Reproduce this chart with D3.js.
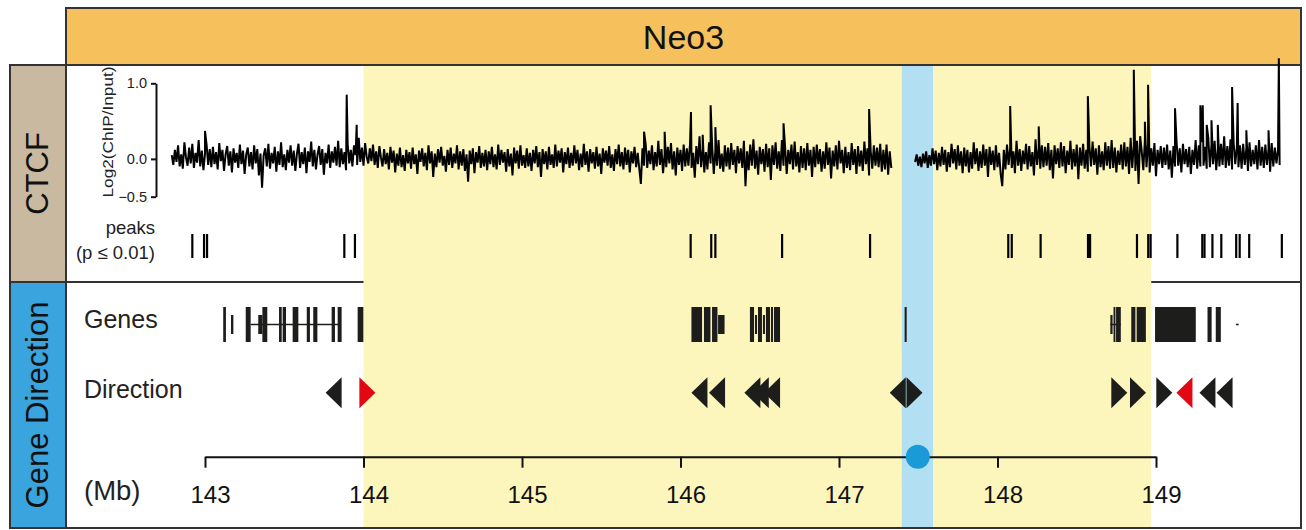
<!DOCTYPE html>
<html><head><meta charset="utf-8">
<script src="https://cdn.jsdelivr.net/npm/d3@7"></script>
<style>
html,body{margin:0;padding:0;background:#fff;}
svg{display:block;font-family:"Liberation Sans",Arial,sans-serif;}
</style></head>
<body><svg id="c" width="1306" height="530"></svg>
<script>
// ---------------- data ----------------
const title = "Neo3";
const axisTicks = [143,144,145,146,147,148,149];
const signalTicks = [-0.5,0.0,1.0];
const tadRegion = [144.0, 148.97];          // yellow domain
const focusRegion = [147.396, 147.593];     // blue band
const focusPoint = 147.497;                 // blue dot

const signalStart = 142.79, signalStep = 0.01;
const signalValues = [
 0.05,-0.08,0.12,-0.04,0.18,-0.10,0.06,-0.13,0.22,0.02,-0.09,0.15,-0.06,0.20,-0.12,0.08,-0.05,0.25,-0.10,0.11,-0.15,0.07,0.19,-0.08,0.13,
 -0.11,0.16,-0.07,0.09,-0.14,0.21,-0.03,0.12,-0.16,0.06,0.17,-0.09,0.10,-0.18,0.14,-0.05,0.08,-0.12,0.19,-0.07,0.11,-0.20,0.06,0.15,-0.10,
 0.09,-0.14,0.18,-0.06,0.13,-0.22,0.07,-0.38,0.05,0.14,-0.10,0.20,-0.13,0.08,-0.06,0.16,-0.17,0.10,-0.08,0.22,-0.11,0.06,-0.15,0.12,-0.05,
 0.18,-0.09,0.11,-0.16,0.07,0.20,-0.12,0.09,-0.07,0.15,-0.19,0.10,-0.04,0.23,-0.10,0.12,-0.14,0.06,0.17,-0.08,0.13,-0.21,0.08,-0.06,0.19,
 -0.12,0.10,-0.05,0.16,-0.09,0.24,-0.11,0.14,-0.07,0.09,-0.15,0.20,-0.06,0.12,-0.10,0.18,0.05,-0.08,0.28,-0.04,0.15,-0.09,0.21,0.03,-0.06,
 0.14,-0.03,0.19,-0.08,0.10,-0.12,0.17,0.02,-0.10,0.13,-0.07,0.08,-0.14,0.16,-0.05,0.11,-0.18,0.07,-0.09,0.15,-0.11,0.05,-0.16,0.12,-0.06,
 0.09,-0.13,0.15,-0.07,0.06,-0.20,0.11,-0.04,0.14,-0.10,0.08,-0.15,0.18,-0.06,0.10,-0.24,0.07,-0.11,0.13,-0.05,0.16,-0.09,0.04,-0.17,0.12,
 -0.08,0.15,-0.12,0.07,-0.06,0.18,-0.14,0.10,-0.09,0.13,-0.16,0.06,-0.30,0.11,-0.07,0.14,-0.19,0.09,-0.05,0.17,-0.12,0.08,-0.10,0.12,-0.15,
 0.10,-0.07,0.16,-0.11,0.06,-0.14,0.19,-0.08,0.12,-0.05,0.09,-0.17,0.13,-0.10,0.07,-0.22,0.15,-0.06,0.11,-0.13,0.18,-0.09,0.05,-0.12,0.14,
 -0.10,0.08,-0.16,0.12,-0.06,0.17,-0.11,0.09,-0.24,0.13,-0.07,0.10,-0.14,0.16,-0.08,0.06,-0.12,0.19,-0.10,0.11,-0.05,0.14,-0.18,0.09,-0.07,
 0.15,-0.12,0.08,-0.09,0.18,-0.06,0.12,-0.15,0.07,-0.11,0.20,-0.08,0.10,-0.17,0.13,-0.06,0.09,-0.13,0.16,-0.10,0.07,-0.20,0.14,-0.05,0.11,
 -0.09,0.17,-0.12,0.06,-0.16,0.13,-0.07,0.19,-0.10,0.09,-0.14,0.15,-0.08,0.12,-0.18,0.10,-0.06,0.16,-0.11,0.08,-0.13,-0.33,0.14,-0.09,0.20,
 -0.12,0.11,-0.07,0.18,-0.15,0.09,-0.10,0.24,-0.08,0.13,-0.19,0.07,-0.11,0.16,-0.06,0.21,-0.14,0.10,-0.22,0.15,-0.08,0.12,-0.16,0.19,-0.10,
 0.14,-0.09,0.20,-0.12,0.08,-0.25,0.17,-0.07,0.30,-0.11,0.13,-0.18,0.09,-0.14,0.22,-0.06,0.16,-0.20,0.11,-0.09,0.25,-0.13,0.07,-0.17,0.18,
 -0.10,0.15,-0.14,0.21,-0.08,0.12,-0.19,0.17,-0.06,0.14,-0.12,0.24,-0.36,0.10,-0.15,0.19,-0.09,0.26,-0.13,0.11,-0.21,0.16,-0.07,0.13,-0.17,
 0.20,-0.11,0.14,-0.28,0.18,-0.08,0.22,-0.13,0.10,-0.16,0.25,-0.09,0.15,-0.20,0.12,-0.07,0.19,-0.14,0.23,-0.10,0.09,-0.18,0.17,-0.12,0.14,
 -0.15,0.21,-0.09,0.12,-0.24,0.16,-0.11,0.19,-0.07,0.13,-0.17,0.10,-0.13,0.22,-0.08,0.15,-0.26,0.11,-0.10,0.18,-0.14,0.24,-0.06,0.12,-0.19,
 0.16,-0.12,0.09,-0.15,0.21,-0.08,0.13,-0.20,0.17,-0.10,0.11,-0.16,0.23,-0.07,0.14,-0.22,0.10,-0.13,0.18,-0.09,0.15,-0.11,0.20,-0.17,0.12,
 -0.14,0.19,-0.21,0.10,-0.12,null,null,null,null,null,null,null,null,null,null,null,null,null,null,-0.04,0.06,-0.09,0.03,-0.11,0.07,
 -0.06,0.10,-0.12,0.05,-0.09,0.14,-0.07,0.11,-0.15,0.08,-0.10,0.16,-0.08,0.12,-0.17,0.09,-0.11,0.20,-0.06,0.13,-0.14,0.18,-0.09,0.10,-0.19,
 0.15,-0.10,0.12,-0.18,0.09,-0.13,0.22,-0.07,0.14,-0.16,0.10,-0.12,0.19,-0.09,0.13,-0.24,0.16,-0.08,0.11,-0.15,0.18,-0.11,0.08,-0.20,-0.36,
 0.12,-0.14,0.19,-0.08,0.15,-0.12,0.10,-0.19,0.24,-0.09,0.13,-0.16,0.11,-0.07,0.20,-0.14,0.17,-0.10,0.09,-0.22,0.26,-0.08,0.14,-0.13,0.18,
 -0.11,0.16,-0.09,0.21,-0.15,0.12,-0.26,0.18,-0.07,0.14,-0.12,0.22,-0.10,0.17,-0.19,0.11,-0.08,0.24,-0.14,0.13,-0.10,0.19,-0.27,0.15,-0.09,
 0.20,-0.13,0.12,-0.17,0.16,-0.10,0.23,-0.08,0.14,-0.21,0.18,-0.11,0.10,-0.15,0.22,-0.09,0.17,-0.13,0.25,-0.12,0.15,-0.18,0.11,-0.08,0.19,
 -0.14,0.22,-0.10,0.16,-0.20,0.28,-0.12,0.18,-0.16,0.24,-0.33,0.30,0.10,-0.15,0.26,-0.11,0.20,-0.18,0.14,-0.09,0.21,-0.23,0.12,-0.07,0.17,
 -0.12,0.15,-0.08,0.19,-0.14,0.11,-0.25,0.17,-0.10,0.22,-0.09,0.14,-0.18,0.20,-0.07,0.13,-0.11,0.16,-0.20,0.12,-0.08,0.25,-0.13,0.18,-0.10,
 0.22,-0.09,0.16,-0.13,0.28,-0.11,0.19,-0.07,0.24,-0.15,0.13,-0.10,0.20,-0.08,0.30,-0.12,0.17,-0.09,0.26,-0.14,0.21,-0.07,0.15,-0.11,0.18,
 -0.13,0.20,-0.08,0.14,-0.16,0.22,-0.10,0.12,-0.07,0.18,-0.14,0.25,-0.09,0.16,-0.12,0.19,-0.08,0.13,-0.17,0.21,-0.10,0.15,-0.06,0.12,-0.08
];
const spikeMb  = [143.000,143.894,143.957,145.770,145.900,146.066,146.140,146.190,146.220,146.650,147.190,148.080,148.260,148.570,148.860,148.930,148.950,149.120,149.280,149.295,149.320,149.350,149.390,149.480,149.515,149.570,149.710,149.775];
const spikeVal = [0.37,0.85,0.45,0.36,0.36,0.62,0.32,0.71,0.42,0.47,0.66,0.70,0.43,0.83,1.18,0.49,0.98,0.67,0.71,0.71,0.45,0.51,0.45,0.95,0.74,0.38,0.38,1.33];

const peakMb = [142.920,142.994,143.013,143.879,143.946,146.064,146.194,146.220,146.641,147.196,148.068,148.090,148.272,148.571,148.584,148.880,148.951,148.966,149.135,149.292,149.306,149.356,149.412,149.506,149.528,149.588,149.794];

const geneStart = [143.115,143.164,143.257,143.336,143.362,143.467,143.490,143.553,143.642,143.683,143.799,143.837,143.963,
  146.069,146.148,146.199,146.237,146.438,146.470,146.489,146.520,146.539,146.571,146.590,147.414,
  148.712,148.732,148.748,148.844,148.878,148.994,149.325,149.377,149.505];
const geneEnd = [143.132,143.179,143.288,143.362,143.393,143.484,143.511,143.589,143.662,143.709,143.820,143.862,143.999,
  146.136,146.189,146.233,146.278,146.464,146.483,146.514,146.533,146.565,146.584,146.628,147.427,
  148.726,148.744,148.778,148.870,148.936,149.251,149.351,149.409,149.521];
const geneKind = ["full","half","full","half","full","full","full","full","full","full","full","full","full",
  "full","full","full","half","full","half","full","half","full","full","full","full",
  "half","full","full","full","full","full","full","full","dot"];
const intronStart = [143.288,148.712];
const intronEnd   = [143.839,148.778];

const dirMb     = [143.862,143.974,146.170,146.281,146.504,146.557,146.628,147.421,147.426,148.718,148.836,149.002,149.230,149.375,149.483];
const dirStrand = ["-","+","-","-","-","-","-","-","+","+","+","+","-","-","-"];
const dirRed    = [false,true,false,false,false,false,false,false,false,false,false,false,true,false,false];

// ---------------- drawing ----------------
const svg = d3.select("#c");
const W = 1306, H = 530;
const pL = 66, pR = 1301, pT = 8, titleB = 65, midY = 282, pB = 528, sideL = 10;
const x = d3.scaleLinear().domain([143,149]).range([205,1156]);
const y = d3.scaleLinear().domain([-0.5,1.0]).range([196.7,83.3]);
const ink = "#1d1d1b", border = "#333333";

svg.append("rect").attr("width",W).attr("height",H).attr("fill","#fff");

// divider under highlight
svg.append("line").attr("x1",pL).attr("x2",pR).attr("y1",midY).attr("y2",midY)
  .attr("stroke",border).attr("stroke-width",2);

// highlight regions
svg.append("rect").attr("x",x(tadRegion[0])).attr("y",titleB)
  .attr("width",x(tadRegion[1])-x(tadRegion[0])).attr("height",pB-titleB).attr("fill","#fdf6bc");
svg.append("rect").attr("x",x(focusRegion[0])).attr("y",titleB)
  .attr("width",x(focusRegion[1])-x(focusRegion[0])).attr("height",pB-titleB).attr("fill","#b3dff2");

// side panels
svg.append("rect").attr("x",sideL).attr("y",titleB).attr("width",pL-sideL).attr("height",midY-titleB)
  .attr("fill","#c9b9a0").attr("stroke",border).attr("stroke-width",2);
svg.append("rect").attr("x",sideL).attr("y",midY).attr("width",pL-sideL).attr("height",pB-midY)
  .attr("fill","#3aa4de").attr("stroke",border).attr("stroke-width",2);
svg.append("text").attr("transform",`translate(48,${(titleB+midY)/2}) rotate(-90)`)
  .attr("text-anchor","middle").attr("font-size",31).attr("fill","#111").text("CTCF");
svg.append("text").attr("transform",`translate(48,${(midY+pB)/2}) rotate(-90)`)
  .attr("text-anchor","middle").attr("font-size",31).attr("fill","#111").text("Gene Direction");

// main frame
svg.append("rect").attr("x",pL).attr("y",titleB).attr("width",pR-pL).attr("height",pB-titleB)
  .attr("fill","none").attr("stroke",border).attr("stroke-width",2);
// title
svg.append("rect").attr("x",pL).attr("y",pT).attr("width",pR-pL).attr("height",titleB-pT)
  .attr("fill","#f6c15d").attr("stroke",border).attr("stroke-width",2);
svg.append("text").attr("x",(pL+pR)/2).attr("y",49).attr("text-anchor","middle")
  .attr("font-size",34).attr("fill","#111").text(title);

// signal
const pts = [];
signalValues.forEach((v,i)=>pts.push({mb: signalStart+i*signalStep, v}));
spikeMb.forEach((m,i)=>pts.push({mb:m, v:spikeVal[i]}));
pts.sort((a,b)=>a.mb-b.mb);
const line = d3.line().defined(d=>d.v!==null).x(d=>x(d.mb)).y(d=>y(d.v));
svg.append("path").datum(pts).attr("d",line).attr("fill","none")
  .attr("stroke","#000").attr("stroke-width",2).attr("stroke-linejoin","miter");

// signal axis
const ya = svg.append("g").attr("transform","translate(156,0)")
  .call(d3.axisLeft(y).tickValues(signalTicks).tickFormat(d3.format(".1f")).tickSize(5).tickSizeOuter(0));
ya.select(".domain").attr("stroke","#111").attr("stroke-width",2);
ya.selectAll(".tick line").attr("stroke","#111").attr("stroke-width",2);
ya.selectAll(".tick text").attr("font-size",14.5).attr("fill","#222").attr("x",-9)
  .attr("font-family","Liberation Sans, Arial, sans-serif");
svg.append("text").attr("transform","translate(113,132) rotate(-90)").attr("text-anchor","middle")
  .attr("font-size",14).attr("textLength",131).attr("lengthAdjust","spacingAndGlyphs")
  .attr("fill","#222").text("Log2(ChIP/Input)");

// peaks
svg.append("text").attr("x",155).attr("y",234).attr("text-anchor","end").attr("font-size",18.5).attr("fill","#222").text("peaks");
svg.append("text").attr("x",155).attr("y",259).attr("text-anchor","end").attr("font-size",18.5).attr("fill","#222").text("(p \u2264 0.01)");
svg.append("g").selectAll("line").data(peakMb).join("line")
  .attr("x1",d=>x(d)).attr("x2",d=>x(d)).attr("y1",234).attr("y2",258)
  .attr("stroke","#000").attr("stroke-width",2.2);

// genes
svg.append("text").attr("x",84).attr("y",328).attr("font-size",25).attr("fill","#222").text("Genes");
svg.append("text").attr("x",84).attr("y",398).attr("font-size",25).attr("fill","#222").text("Direction");
svg.append("text").attr("x",84).attr("y",500).attr("font-size",27.5).attr("fill","#222").text("(Mb)");
const gy = 324.5;
svg.append("g").selectAll("line").data(intronStart).join("line")
  .attr("x1",d=>x(d)).attr("x2",(d,i)=>x(intronEnd[i])).attr("y1",gy).attr("y2",gy)
  .attr("stroke",ink).attr("stroke-width",1.6);
const hk = {full:17.5, half:9.5, dot:0.8};
svg.append("g").selectAll("rect").data(geneStart).join("rect")
  .attr("x",d=>x(d)).attr("width",(d,i)=>Math.max(1.5,x(geneEnd[i])-x(d)))
  .attr("y",(d,i)=>gy-hk[geneKind[i]]).attr("height",(d,i)=>2*hk[geneKind[i]])
  .attr("fill",ink);

// direction triangles
const dy0 = 392.8, th = 15.5, tw = 16;
svg.append("g").selectAll("path").data(dirMb).join("path")
  .attr("d",(d,i)=>{const b=x(d), t = dirStrand[i]==="+" ? b+tw : b-tw;
     return `M${b},${dy0-th}L${t},${dy0}L${b},${dy0+th}Z`;})
  .attr("fill",(d,i)=>dirRed[i]?"#e30613":ink);

// bottom axis
const xa = svg.append("g").attr("transform","translate(0,456.7)")
  .call(d3.axisBottom(x).tickValues(axisTicks).tickFormat(d3.format("d")).tickSize(11).tickSizeOuter(0));
xa.select(".domain").attr("stroke","#111").attr("stroke-width",2);
xa.selectAll(".tick line").attr("stroke","#111").attr("stroke-width",2);
xa.selectAll(".tick text").attr("font-size",24).attr("fill","#111").attr("y",46.3).attr("dy",0).attr("dx",5)
  .attr("font-family","Liberation Sans, Arial, sans-serif");
svg.append("circle").attr("cx",x(focusPoint)).attr("cy",456.7).attr("r",12).attr("fill","#1a9bd7");
</script></body></html>
